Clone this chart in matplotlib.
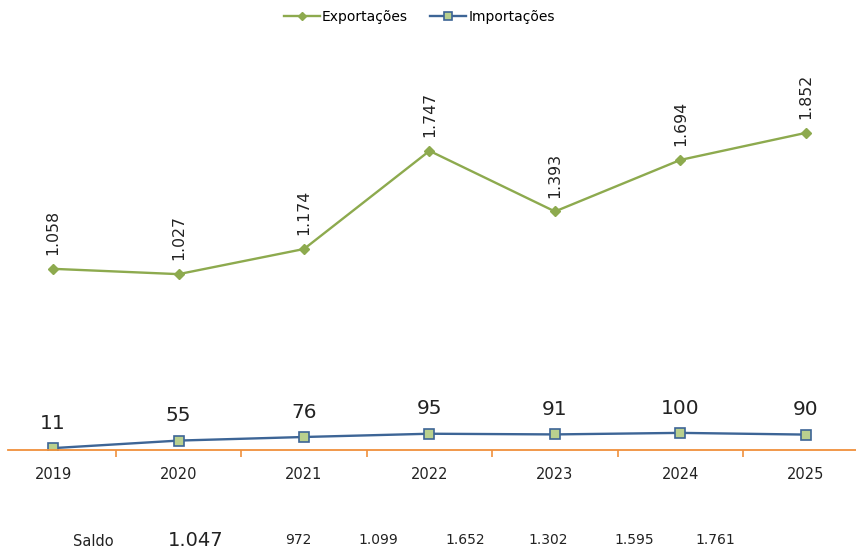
import numpy as np
import matplotlib.pyplot as plt

# data
anos = ['2019', '2020', '2021', '2022', '2023', '2024', '2025']
exportacoes = [1058, 1027, 1174, 1747, 1393, 1694, 1852]
importacoes = [11, 55, 76, 95, 91, 100, 90]
saldo_labels = ['1.047', '972', '1.099', '1.652', '1.302', '1.595', '1.761']


def fmt(v):
    return f'{v:,}'.replace(',', '.')


plt.rcParams['font.family'] = ['DejaVu Sans']

fig = plt.figure(figsize=(8.56, 5.48), dpi=100)
ax = fig.add_axes([8 / 856, 98 / 548, 848 / 856, 450 / 548])

x = np.arange(len(anos))
verde = '#8DAA4E'
azul = '#3D6596'
laranja = '#F0903C'

ax.plot(x, exportacoes, color=verde, lw=1.7, marker='D', ms=5,
        mfc=verde, mec=verde, label='Exportações')
ax.plot(x, importacoes, color=azul, lw=1.7, marker='s', ms=7,
        mfc='#B9D08E', mec=azul, mew=1.2, label='Importações')

for xi, v in zip(x, exportacoes):
    ax.annotate(fmt(v), (xi, v), xytext=(0, 10), textcoords='offset points',
                rotation=90, ha='center', va='bottom', fontsize=11.3, color='#222222')
for xi, v in zip(x, importacoes):
    ax.annotate(fmt(v), (xi, v), xytext=(0, 11), textcoords='offset points',
                ha='center', va='bottom', fontsize=14.5, color='#222222')

ax.set_xlim(-0.36, 6.4)
ax.set_ylim(0, 2628)

for s in ['top', 'right', 'left']:
    ax.spines[s].set_visible(False)
ax.spines['bottom'].set_color(laranja)
ax.spines['bottom'].set_linewidth(1.3)
ax.set_yticks([])

ax.set_xticks(x)
ax.set_xticklabels(anos, fontsize=10.5, color='#222222')
ax.tick_params(axis='x', which='major', length=0, pad=12)
ax.set_xticks(x[:-1] + 0.5, minor=True)
ax.tick_params(axis='x', which='minor', length=5, color=laranja, width=1.2, direction='out')

leg = fig.legend(loc='upper center', bbox_to_anchor=(0.49, 1.005), ncol=2, frameon=False,
                 fontsize=10, handlelength=2.6, columnspacing=1.6, handletextpad=0.15,
                 markerscale=0.8)

# saldo row
fig.text(93 / 856, 1 - 541 / 548, 'Saldo', fontsize=10.5, ha='center', va='center', color='#222222')
saldo_x = [196, 298, 378, 465, 548, 634, 715]
for i, (sx, lab) in enumerate(zip(saldo_x, saldo_labels)):
    fig.text(sx / 856, 1 - 540 / 548, lab, fontsize=14 if i == 0 else 10,
             ha='center', va='center', color='#222222')

fig.savefig('out.png', dpi=100)
